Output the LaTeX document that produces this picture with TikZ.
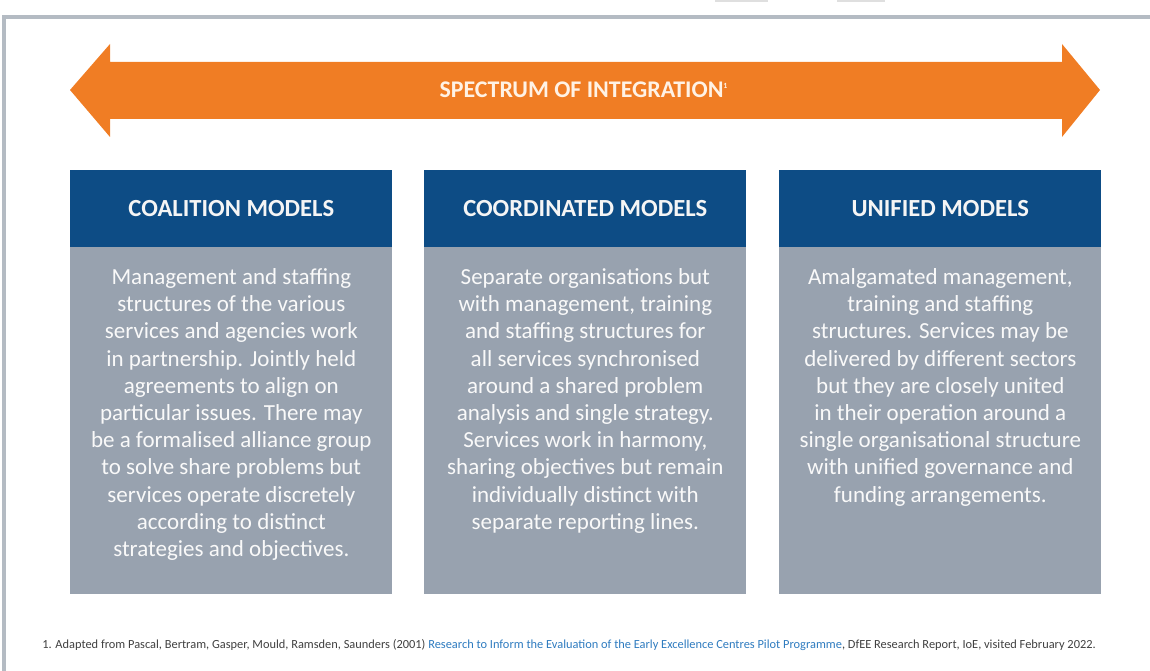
\documentclass[tikz,border=0pt]{standalone}
\usepackage{fontspec}
\setmainfont{Carlito}
\usetikzlibrary{positioning}
\definecolor{arrorange}{HTML}{F07D24}
\definecolor{headblue}{HTML}{0D4C85}
\definecolor{bodygray}{HTML}{98A2AF}
\definecolor{framegray}{HTML}{B4BBC3}
\definecolor{linkblue}{HTML}{2E7BBF}

\begin{document}
\begin{tikzpicture}[x=0.02cm, y=-0.02cm,
head/.style = {fill=headblue, text=white!92!gray, font=\fontsize{14}{16}\selectfont\bfseries,
               minimum width=6.44cm, minimum height=1.54cm, anchor=north west, inner sep=0pt},
body/.style = {fill=bodygray, minimum width=6.44cm, minimum height=6.94cm,
               anchor=north west, inner sep=0pt},
bodytext/.style = {text=white!95!gray, font=\fontsize{13.1}{15.5}\selectfont, align=center,
               anchor=north, inner sep=0pt}
                    ]
\useasboundingbox (0,0) rectangle (1150,671);
% frame and marks
\draw[framegray, line width=2pt] (4,671) -- (4,17) -- (1150,17);
\fill[gray!25] (715,0) rectangle (768,2);
\fill[gray!25] (837,0) rectangle (885,2);
% double arrow
\fill[arrorange] (70,90) -- (110,44) -- (110,62) -- (1062,62) -- (1062,44) -- (1100,90)
    -- (1062,137) -- (1062,119) -- (110,119) -- (110,137) -- cycle;
\node[text=white!90!orange, font=\fontsize{13.6}{15}\selectfont\bfseries] (spectrum) at (584,90)
    {SPECTRUM OF INTEGRATION\textsuperscript{\fontsize{4.5}{5}\selectfont 1}};
%
\node[head] (coalhead) at (70,170) {COALITION MODELS};
\node[body] (coalbody) at (70,247) {};
\node[head] (coorhead) at (424,170) {COORDINATED MODELS};
\node[body] (coorbody) at (424,247) {};
\node[head] (unifhead) at (779,170) {UNIFIED MODELS};
\node[body] (unifbody) at (779,247) {};
%
\node[bodytext] (coaltext) at ([yshift=-0.42cm]coalbody.north)
    {Management and staffing\\ structures of the various\\ services and agencies work\\
     in partnership. Jointly held\\ agreements to align on\\ particular issues. There may\\
     be a formalised alliance group\\ to solve share problems but\\ services operate discretely\\
     according to distinct\\ strategies and objectives.};
\node[bodytext] (coortext) at ([yshift=-0.42cm]coorbody.north)
    {Separate organisations but\\ with management, training\\ and staffing structures for\\
     all services synchronised\\ around a shared problem\\ analysis and single strategy.\\
     Services work in harmony,\\ sharing objectives but remain\\ individually distinct with\\
     separate reporting lines.};
\node[bodytext] (uniftext) at ([yshift=-0.42cm]unifbody.north)
    {Amalgamated management,\\ training and staffing\\ structures. Services may be\\
     delivered by different sectors\\ but they are closely united\\ in their operation around a\\
     single organisational structure\\ with unified governance and\\ funding arrangements.};
% footnote
\node[anchor=west, inner sep=0pt, text=black!75, font=\fontsize{7.05}{8}\selectfont] (note) at (42,645)
    {1. Adapted from Pascal, Bertram, Gasper, Mould, Ramsden, Saunders (2001)
     \textcolor{linkblue}{Research to Inform the Evaluation of the Early Excellence Centres Pilot Programme},
     DfEE Research Report, IoE, visited February 2022.};
\end{tikzpicture}
\end{document}
